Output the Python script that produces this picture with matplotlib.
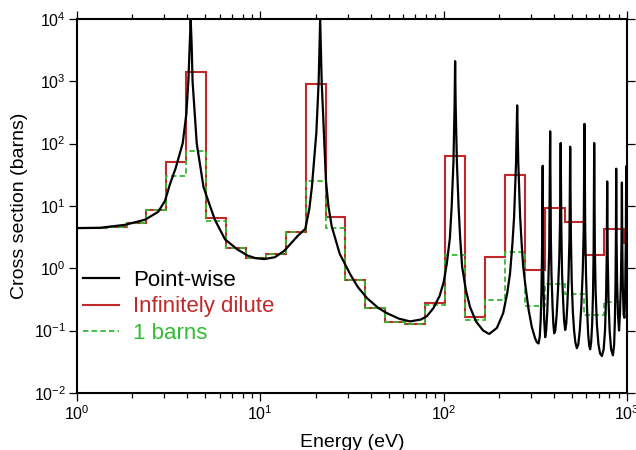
import numpy as np
import matplotlib
matplotlib.use('Agg')
import matplotlib.pyplot as plt

plt.rcParams['font.family'] = ['Liberation Sans', 'DejaVu Sans']
plt.rcParams['mathtext.default'] = 'regular'

# point-wise cross section
energy_pw = [
    1.00, 1.34, 1.83, 2.35, 2.77, 3.02, 3.21, 3.45, 3.77, 3.95, 4.05, 4.12,
    4.17, 4.22, 4.27, 4.50, 4.72, 4.90, 5.20, 5.65, 6.42, 7.50, 8.50, 9.40,
    10.5, 12.0, 13.5, 14.5, 16.0, 17.6, 18.5, 19.1, 20.2, 20.8, 21.2, 21.6,
    22.2, 22.8, 23.5, 24.5, 27.1, 30.9, 34.0, 38.2, 44.0, 49.0, 57.0, 65.5,
    75.0, 81.0, 88.0, 95.0, 100, 104, 108, 110.5, 113, 114.6, 115.4, 116.2,
    118, 120.5, 123, 126, 132, 139, 150, 164, 177, 195, 211, 222,
    230, 237, 242, 248, 251.5, 255, 261, 266, 271, 278, 290, 302,
    315, 322, 329, 334, 338, 341, 343.5, 346.5,
    348, 350, 353, 357.5, 362, 367, 372, 376, 380.6,
    384, 387, 392, 396, 400.2, 406, 413, 420, 427, 430.5, 434.3,
    438, 442, 448, 453, 459.6, 466, 472, 479, 485, 489.4,
    494, 499, 506, 514, 522, 532, 542, 552, 563, 573, 580, 585.7,
    591, 597, 604, 613, 621, 629, 637, 645, 652, 657, 661.5,
    667, 674, 685, 698, 712, 729, 745, 758, 768, 774, 778.9,
    784, 792, 803, 818, 837, 850, 858, 865, 869, 872,
    876, 882, 892, 904, 915, 925, 932, 937,
    941, 948, 958, 967, 976, 984, 989, 994, 1000,
]
xs_pw = [
    4.40, 4.45, 4.97, 6.0, 8.0, 12.0, 22, 40, 100, 300, 1000, 4000,
    9800, 4000, 1000, 100, 40, 20, 12, 6.0, 2.9, 2.0, 1.6, 1.45,
    1.40, 1.50, 1.90, 2.40, 3.30, 4.3, 9, 20, 148, 1000, 9800, 1000,
    148, 25, 10, 4.7, 1.7, 0.80, 0.50, 0.33, 0.23, 0.19, 0.155, 0.140,
    0.150, 0.170, 0.23, 0.36, 0.60, 1.2, 3.0, 9.8, 50, 400, 2100, 400,
    50, 9.8, 3.0, 1.06, 0.45, 0.24, 0.14, 0.10, 0.088, 0.11, 0.19, 0.40,
    0.83, 2.5, 6.7, 50, 410, 50, 6.7, 2.5, 1.1, 0.57, 0.22, 0.115,
    0.075, 0.065, 0.062, 0.08, 0.15, 0.4, 1.5, 44,
    2, 0.5, 0.15, 0.078, 0.1, 0.2, 0.6, 2, 157,
    3, 0.8, 0.25, 0.13, 0.09, 0.1, 0.18, 0.45, 1.5, 5, 102,
    4, 0.8, 0.3, 0.15, 0.102, 0.13, 0.25, 0.7, 3, 89,
    3, 0.6, 0.2, 0.1, 0.065, 0.052, 0.06, 0.1, 0.25, 0.9, 4, 207,
    4, 0.8, 0.25, 0.09, 0.058, 0.05, 0.065, 0.13, 0.4, 2, 102,
    2, 0.4, 0.12, 0.06, 0.043, 0.039, 0.05, 0.1, 0.35, 1.5, 24.7,
    1.5, 0.3, 0.1, 0.05, 0.04, 0.06, 0.15, 0.6, 3, 39.5,
    3, 0.6, 0.18, 0.1, 0.2, 0.6, 2.5, 23.7,
    2.5, 0.5, 0.18, 0.16, 0.4, 2.5, 43, 3, 1.0,
]

# group boundaries (eV)
group_edges = [
    0.880, 1.130, 1.451, 1.863, 2.392, 3.071, 3.944, 5.064, 6.501, 8.348,
    10.72, 13.76, 17.67, 22.69, 29.13, 37.41, 48.03, 61.68, 79.19, 101.7,
    130.6, 167.7, 215.3, 276.5, 355.0, 455.8, 585.3, 751.5, 964.7, 1239,
]
xs_inf = [
    4.40, 4.45, 4.6, 5.3, 8.6, 50, 1400, 6.4, 2.1, 1.47,
    1.72, 3.8, 900, 6.7, 0.64, 0.227, 0.139, 0.126, 0.28, 63,
    0.167, 1.5, 31.6, 0.95, 9.4, 5.6, 1.63, 4.23, 2.52,
]
xs_1b = [
    4.40, 4.45, 4.6, 5.3, 8.6, 30, 75, 5.7, 2.1, 1.47,
    1.72, 3.8, 25, 4.4, 0.64, 0.227, 0.139, 0.126, 0.26, 1.64,
    0.149, 0.31, 1.8, 0.25, 0.56, 0.39, 0.178, 0.29, 0.30,
]

red = '#c0282a'
green = '#33bb33'

fig = plt.figure(figsize=(6.36, 4.5), dpi=100)
ax = fig.add_axes([0.121, 0.127, 0.865, 0.831])

ax.stairs(xs_inf, group_edges, baseline=None, color=red, lw=1.5,
          label='Infinitely dilute', zorder=2)
ax.stairs(xs_1b, group_edges, baseline=None, color=green, lw=1.3,
          linestyle=(0, (3, 1.8)), label='1 barns', zorder=2.5)
ax.plot(energy_pw, xs_pw, color='black', lw=1.6, label='Point-wise', zorder=3)

ax.set_xscale('log')
ax.set_yscale('log')
ax.set_xlim(1, 1000)
ax.set_ylim(1e-2, 1e4)
ax.set_xlabel('Energy (eV)', fontsize=14, labelpad=8)
ax.set_ylabel('Cross section (barns)', fontsize=14, labelpad=4)

ax.yaxis.set_minor_locator(matplotlib.ticker.NullLocator())
ax.tick_params(which='both', direction='out', top=True, right=True,
               labelsize=11.5, width=0.9, pad=2)
ax.tick_params(which='major', length=6)
ax.tick_params(which='minor', length=3.5)
for s in ax.spines.values():
    s.set_linewidth(1.5)

handles, labels = ax.get_legend_handles_labels()
order = [2, 0, 1]
ax.legend([handles[i] for i in order], [labels[i] for i in order],
          loc='upper left', bbox_to_anchor=(-0.005, 0.353), frameon=False,
          borderaxespad=0, fontsize=16, labelcolor='linecolor',
          handlelength=1.6, handletextpad=0.63, labelspacing=0.25)

fig.savefig('out.png', dpi=100)
